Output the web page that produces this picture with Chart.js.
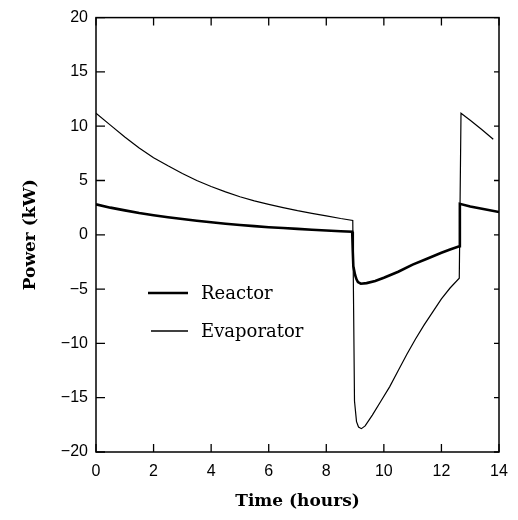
<!DOCTYPE html>
<html>
<head>
<meta charset="utf-8">
<script src="https://cdn.jsdelivr.net/npm/chart.js@4.4.1/dist/chart.umd.min.js"></script>
<style>
    html, body { margin: 0; padding: 0; background: #fff; }
    #wrap { width: 518px; height: 520px; position: relative; }
</style>
</head>
<body>
<div id="wrap"><canvas id="chart"></canvas></div>
<script>
// ===== DATA =====

const xTicks = [0, 2, 4, 6, 8, 10, 12, 14];
const yTicks = [-20, -15, -10, -5, 0, 5, 10, 15, 20];

const reactorTime = [0, 0.5, 1, 1.5, 2, 2.5, 3, 3.5, 4, 4.5, 5, 5.5, 6, 6.5, 7, 7.5, 8, 8.5, 8.9,
    8.92, 8.94, 9.0, 9.05, 9.1, 9.2, 9.4, 9.7, 10.0, 10.5, 11.0, 11.5, 12.0, 12.3, 12.62,
    12.64, 13.0, 13.5, 14];
const reactorPower = [2.8, 2.5, 2.25, 2.0, 1.8, 1.62, 1.45, 1.3, 1.15, 1.02, 0.9, 0.8, 0.7, 0.62, 0.55, 0.47, 0.4, 0.33, 0.28,
    -1.5, -2.9, -3.7, -4.1, -4.35, -4.5, -4.45, -4.25, -3.95, -3.4, -2.75, -2.2, -1.65, -1.35, -1.05,
    2.85, 2.6, 2.35, 2.1];

const evapTime = [0, 0.5, 1, 1.5, 2, 2.5, 3, 3.5, 4, 4.5, 5, 5.5, 6, 6.5, 7, 7.5, 8, 8.5, 8.92,
    8.95, 8.98, 9.05, 9.12, 9.22, 9.35, 9.6, 9.9, 10.2, 10.5, 10.8, 11.1, 11.4, 11.7, 12.0, 12.3, 12.62,
    12.68, 13.0, 13.4, 13.8];
const evapPower = [11.2, 10.1, 9.0, 8.0, 7.1, 6.35, 5.65, 5.0, 4.45, 3.95, 3.5, 3.12, 2.8, 2.5, 2.22, 1.98, 1.75, 1.5, 1.32,
    -7.0, -15.3, -17.2, -17.7, -17.85, -17.6, -16.6, -15.3, -14.0, -12.5, -11.0, -9.6, -8.3, -7.1, -5.9, -4.9, -4.0,
    11.2, 10.55, 9.7, 8.8];

const seriesLabels = ['Reactor', 'Evaporator'];

// ===== PLUGINS =====

// box round the plot with inward ticks on all four sides, plus the inset legend
const framePlugin = {
    id: 'frame',
    afterDraw(chart) {
        const { ctx, chartArea: a, scales } = chart;
        ctx.save();
        ctx.strokeStyle = '#000';
        ctx.lineWidth = 1.5;
        ctx.strokeRect(a.left, a.top, a.right - a.left, a.bottom - a.top);

        ctx.lineWidth = 1.3;
        ctx.beginPath();
        xTicks.forEach((t) => {
            const px = scales.x.getPixelForValue(t);
            ctx.moveTo(px, a.bottom);
            ctx.lineTo(px, a.bottom - 8);
            ctx.moveTo(px, a.top);
            ctx.lineTo(px, a.top + 8);
        });
        yTicks.forEach((t) => {
            const py = scales.y.getPixelForValue(t);
            ctx.moveTo(a.left, py);
            ctx.lineTo(a.left + 9, py);
            ctx.moveTo(a.right, py);
            ctx.lineTo(a.right - 5, py);
        });
        ctx.stroke();

        // legend
        const rows = [
            { y: 293, w: 2.4, x0: 148, x1: 188 },
            { y: 331, w: 1.4, x0: 151, x1: 188 },
        ];
        ctx.fillStyle = '#000';
        ctx.font = '18px "DejaVu Serif"';
        ctx.textBaseline = 'middle';
        rows.forEach((r, i) => {
            ctx.lineWidth = r.w;
            ctx.beginPath();
            ctx.moveTo(r.x0, r.y);
            ctx.lineTo(r.x1, r.y);
            ctx.stroke();
            ctx.fillText(seriesLabels[i], 201, r.y + 1);
        });
        ctx.restore();
    },
};

// ===== CHART =====

const tickFont = { family: '"Liberation Sans", Arial, sans-serif', size: 16 };
const titleFont = { family: '"DejaVu Serif", serif', size: 17, weight: 'bold' };

new Chart(document.getElementById('chart').getContext('2d'), {
    type: 'line',
    data: {
        datasets: [
            {
                label: seriesLabels[0],
                data: reactorTime.map((t, i) => ({ x: t, y: reactorPower[i] })),
                borderColor: '#000',
                borderWidth: 2.6,
                pointRadius: 0,
                tension: 0,
                fill: false,
            },
            {
                label: seriesLabels[1],
                data: evapTime.map((t, i) => ({ x: t, y: evapPower[i] })),
                borderColor: '#000',
                borderWidth: 1.2,
                pointRadius: 0,
                tension: 0,
                fill: false,
            },
        ],
    },
    options: {
        responsive: true,
        maintainAspectRatio: false,
        animation: false,
        layout: { padding: { top: 14, right: 19, left: 0, bottom: 0 } },
        plugins: {
            legend: { display: false },
            tooltip: { enabled: false },
        },
        scales: {
            x: {
                type: 'linear',
                min: 0,
                max: 14,
                afterBuildTicks: (s) => { s.ticks = xTicks.map((v) => ({ value: v })); },
                afterFit: (s) => { s.height = 68; },
                ticks: { color: '#000', font: tickFont, padding: 10, maxRotation: 0 },
                grid: { display: false, drawTicks: false },
                border: { display: false },
                title: {
                    display: true,
                    text: 'Time (hours)',
                    color: '#000',
                    font: titleFont,
                    padding: { top: 0, bottom: 8 },
                },
            },
            y: {
                type: 'linear',
                min: -20,
                max: 20,
                afterBuildTicks: (s) => { s.ticks = yTicks.map((v) => ({ value: v })); },
                afterFit: (s) => { s.width = 96; },
                ticks: {
                    color: '#000',
                    font: tickFont,
                    padding: 8,
                    callback: (v) => (v < 0 ? '\u2212' + Math.abs(v) : String(v)),
                },
                grid: { display: false, drawTicks: false },
                border: { display: false },
                title: {
                    display: true,
                    text: 'Power (kW)',
                    color: '#000',
                    font: titleFont,
                    padding: { top: 20, bottom: 0 },
                },
            },
        },
    },
    plugins: [framePlugin],
});
</script>
</body>
</html>
